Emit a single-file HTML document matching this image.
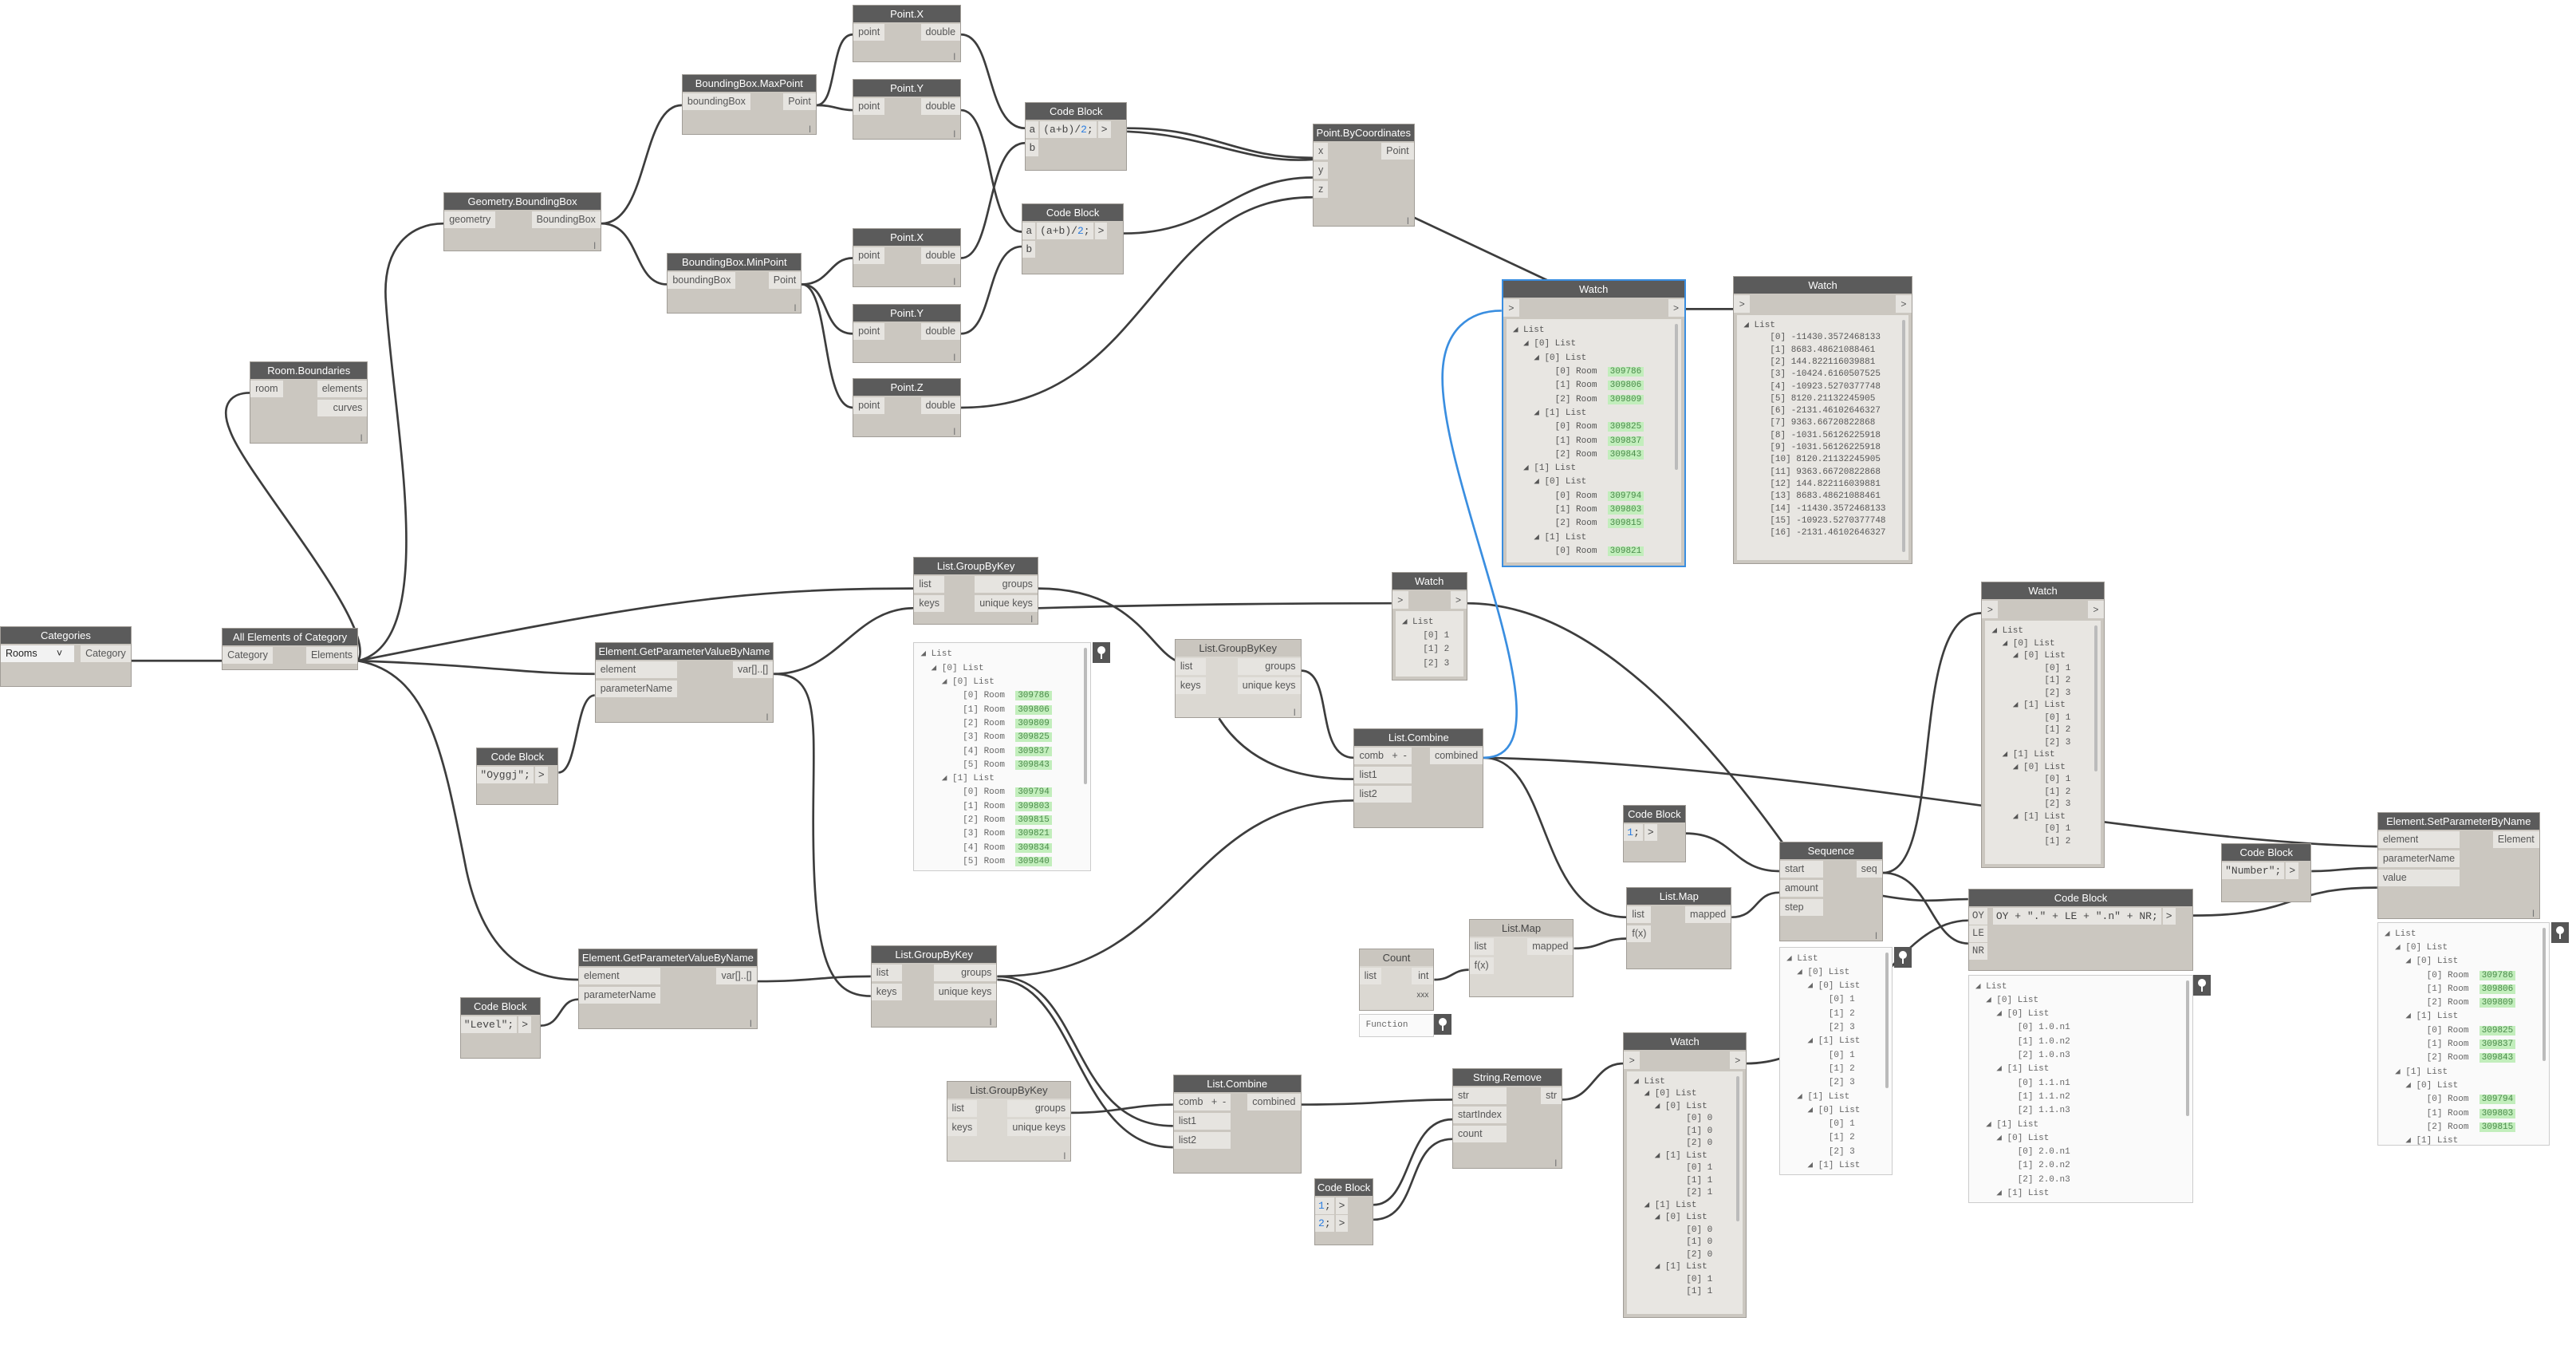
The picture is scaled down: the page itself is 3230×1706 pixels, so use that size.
<!DOCTYPE html>
<html><head><meta charset="utf-8">
<style>
html,body{margin:0;padding:0;background:#fff;width:3230px;height:1706px;overflow:hidden;font-family:"Liberation Sans",sans-serif}
.n,.pv{position:absolute;left:calc(var(--x)*2.06px);top:calc(var(--y)*2.06px);width:calc(var(--w)*2.06px);height:calc(var(--h)*2.06px);box-sizing:border-box}
.n{background:#cbc7c0;border:1px solid #a19d97;z-index:2}
.h{height:21px;line-height:21px;background:#5b5b5b;color:#fff;text-align:center;font-size:13px;white-space:nowrap;overflow:hidden}
.g{background:#dbd8d2}.g .h{background:#cac6bf;color:#444}
.l{position:absolute;left:0;top:23px}.r{position:absolute;right:0;top:23px;text-align:right}
.l i,.r i{display:block;font-style:normal;background:#e6e4e0;color:#555;font-size:12.5px;height:21px;line-height:21px;padding:0 6px;margin-bottom:3px;white-space:nowrap}
.f{position:absolute;right:6px;bottom:2px;font-size:9px;color:#777}
.cb{position:absolute;left:0;top:23px;font-family:"Liberation Mono",monospace;font-size:13px;white-space:nowrap}
.cb span{display:inline-block;background:#e6e4e0;height:21px;line-height:21px;padding:0 4px;margin-right:2px;color:#444}
.s{color:#a0522d}.b{color:#2a7de1}
.pv{background:#fafafa;border:1px solid #ccc;font-family:"Liberation Mono",monospace;font-size:11px;color:#666;line-height:17.3px;white-space:pre;padding:6px 8px;overflow:hidden;z-index:2}
.pv u{text-decoration:none;background:#c2eebc;color:#4a8a4a;padding:0 3px}
.in{position:absolute;left:4px;right:4px;top:48px;bottom:4px;background:#e8e6e2;font-family:"Liberation Mono",monospace;font-size:11px;color:#555;line-height:17.3px;white-space:pre;padding:6px 8px;overflow:hidden}
.in u{text-decoration:none;background:#c2eebc;color:#4a8a4a;padding:0 3px}
.wr{position:absolute;top:23px;left:0;right:0;height:22px}
.wr b{position:absolute;top:0;width:20px;height:22px;background:#e6e4e0;font-weight:normal;font-size:12px;line-height:22px;text-align:center;color:#555}
.pin{position:absolute;width:22px;height:26px;background:#555;z-index:3;left:calc(var(--x)*2.06px);top:calc(var(--y)*2.06px)}
.pin:before{content:"";position:absolute;left:6px;top:5px;width:10px;height:10px;border-radius:50%;background:#fff}
.pin:after{content:"";position:absolute;left:10px;top:12px;width:2px;height:9px;background:#fff}
.sb{position:absolute;right:4px;top:6px;width:4px;height:60%;background:#bbb;border-radius:2px}
svg{position:absolute;left:0;top:0;z-index:1}
</style></head><body>
<svg width="3230" height="1706" viewBox="0 0 1568 828" preserveAspectRatio="none" fill="none" stroke="#3d3d3d" stroke-width="1.3">
<path d="M80,402 L135,402"/>
<path d="M218,402 C230,380 150,290 140,262 C133,245 142,239 152,239"/>
<path d="M218,402 C268,390 240,260 235,185 C232,150 250,136 270,136"/>
<path d="M218,402 C380,370 440,358 556,358"/>
<path d="M218,402 C300,405 320,410 362,410"/>
<path d="M218,402 C262,410 270,460 284,530 C295,580 320,596 352,596"/>
<path d="M471,410 C510,410 520,370 556,370"/>
<path d="M471,410 C500,410 495,440 495,500 C495,585 505,606 530,606"/>
<path d="M461,597 C495,597 500,594 530,594"/>
<path d="M340,470 C352,470 350,423 362,423"/>
<path d="M329,624 C342,624 340,608 352,608"/>
<path d="M366,136 C395,136 390,64 415,64"/>
<path d="M366,136 C390,136 385,173 406,173"/>
<path d="M497,64 C510,64 505,21 519,21"/>
<path d="M497,64 C508,64 510,67 519,67"/>
<path d="M488,173 C505,173 505,157 519,157"/>
<path d="M488,173 C505,173 500,203 519,203"/>
<path d="M488,173 C505,173 500,248 519,248"/>
<path d="M585,21 C605,21 600,78 624,78"/>
<path d="M585,157 C605,157 600,87 624,87"/>
<path d="M585,67 C605,67 600,141 622,141"/>
<path d="M585,203 C605,203 600,150 622,150"/>
<path d="M686,78 C740,78 750,96 799,96"/>
<path d="M686,80 C735,82 760,100 799,97"/>
<path d="M684,142 C740,142 750,108 799,108"/>
<path d="M585,248 C700,248 700,120 799,120"/>
<path d="M860,132 L945,172"/>
<path d="M1026,188 L1055,188"/>
<path d="M632,358 C690,358 700,395 716,402"/>
<path d="M632,370 C700,368 780,367 847,367"/>
<path d="M893,367 C970,367 1040,450 1086,514"/>
<path d="M792,408 C812,408 800,461 824,461"/>
<path d="M742,437 C760,465 790,474 824,474"/>
<path d="M607,594 C720,594 720,487 824,487"/>
<path d="M607,594 C660,594 650,685 714,685"/>
<path d="M607,596 C655,596 655,698 714,698"/>
<path d="M652,677 C680,677 690,672 714,672"/>
<path d="M792,672 C840,672 850,669 884,669"/>
<path d="M836,733 C860,733 855,681 884,681"/>
<path d="M836,742 C865,742 855,693 884,693"/>
<path d="M951,669 C970,669 970,647 988,647"/>
<path d="M1063,647 C1130,647 1150,560 1198,560"/>
<path d="M1026,507 C1055,507 1055,530 1083,530"/>
<path d="M903,461 C945,461 935,558 990,558"/>
<path d="M903,461 C1100,465 1300,512 1447,515"/>
<path d="M873,596 C884,596 884,590 894,590"/>
<path d="M958,577 C975,577 975,571 990,571"/>
<path d="M1054,558 C1070,558 1068,543 1083,543"/>
<path d="M1146,531 C1185,531 1160,373 1206,373"/>
<path d="M1146,531 C1175,531 1175,574 1198,574"/>
<path d="M1146,545 C1175,550 1180,547 1198,547"/>
<path d="M1335,557 C1400,557 1390,540 1447,540"/>
<path d="M1407,530 C1425,530 1425,528 1447,528"/>
<path d="M903,461 C960,461 878,300 878,230 C878,200 895,189 914,189" stroke="#3a8ee0"/>
</svg>

<div class="n" style="--x:0;--y:381;--w:80;--h:37"><div class="h">Categories</div><div class="l"><i style="background:#f2f2f2;color:#222;width:80px">Rooms &nbsp; &nbsp; &nbsp; ˅</i></div><div class="r"><i>Category</i></div></div>
<div class="n" style="--x:135;--y:382;--w:83;--h:26"><div class="h">All Elements of Category</div><div class="l"><i>Category</i></div><div class="r"><i>Elements</i></div></div>
<div class="n" style="--x:152;--y:220;--w:72;--h:50"><div class="h">Room.Boundaries</div><div class="l"><i>room</i></div><div class="r"><i>elements</i><i>curves</i></div><b class="f">|</b></div>
<div class="n" style="--x:270;--y:117;--w:96;--h:36"><div class="h">Geometry.BoundingBox</div><div class="l"><i>geometry</i></div><div class="r"><i>BoundingBox</i></div><b class="f">|</b></div>
<div class="n" style="--x:415;--y:45;--w:82;--h:37"><div class="h">BoundingBox.MaxPoint</div><div class="l"><i>boundingBox</i></div><div class="r"><i>Point</i></div><b class="f">|</b></div>
<div class="n" style="--x:406;--y:154;--w:82;--h:37"><div class="h">BoundingBox.MinPoint</div><div class="l"><i>boundingBox</i></div><div class="r"><i>Point</i></div><b class="f">|</b></div>
<div class="n" style="--x:519;--y:3;--w:66;--h:35"><div class="h">Point.X</div><div class="l"><i>point</i></div><div class="r"><i>double</i></div><b class="f">|</b></div>
<div class="n" style="--x:519;--y:48;--w:66;--h:37"><div class="h">Point.Y</div><div class="l"><i>point</i></div><div class="r"><i>double</i></div><b class="f">|</b></div>
<div class="n" style="--x:519;--y:139;--w:66;--h:36"><div class="h">Point.X</div><div class="l"><i>point</i></div><div class="r"><i>double</i></div><b class="f">|</b></div>
<div class="n" style="--x:519;--y:185;--w:66;--h:36"><div class="h">Point.Y</div><div class="l"><i>point</i></div><div class="r"><i>double</i></div><b class="f">|</b></div>
<div class="n" style="--x:519;--y:230;--w:66;--h:36"><div class="h">Point.Z</div><div class="l"><i>point</i></div><div class="r"><i>double</i></div><b class="f">|</b></div>
<div class="n" style="--x:624;--y:62;--w:62;--h:42"><div class="h">Code Block</div><div class="cb"><span>a</span><span>(a+b)/<b class="b" style="font-weight:normal">2</b>;</span><span>&gt;</span><br><span style="margin-top:2px">b</span></div></div>
<div class="n" style="--x:622;--y:124;--w:62;--h:43"><div class="h">Code Block</div><div class="cb"><span>a</span><span>(a+b)/<b class="b" style="font-weight:normal">2</b>;</span><span>&gt;</span><br><span style="margin-top:2px">b</span></div></div>
<div class="n" style="--x:799;--y:75;--w:62;--h:63"><div class="h">Point.ByCoordinates</div><div class="l"><i>x</i><i>y</i><i>z</i></div><div class="r"><i>Point</i></div><b class="f">|</b></div>

<div class="n" style="--x:914;--y:170;--w:112;--h:175;border:2px solid #3a8ee0"><div class="h">Watch</div><div class="wr"><b style="left:0">&gt;</b><b style="right:0">&gt;</b></div><div class="in">◢ List
  ◢ [0] List
    ◢ [0] List
        [0] Room  <u>309786</u>
        [1] Room  <u>309806</u>
        [2] Room  <u>309809</u>
    ◢ [1] List
        [0] Room  <u>309825</u>
        [1] Room  <u>309837</u>
        [2] Room  <u>309843</u>
  ◢ [1] List
    ◢ [0] List
        [0] Room  <u>309794</u>
        [1] Room  <u>309803</u>
        [2] Room  <u>309815</u>
    ◢ [1] List
        [0] Room  <u>309821</u><div class="sb"></div></div></div>
<div class="n" style="--x:1055;--y:168;--w:109;--h:175"><div class="h">Watch</div><div class="wr"><b style="left:0">&gt;</b><b style="right:0">&gt;</b></div><div class="in" style="line-height:15.3px">◢ List
     [0] -11430.3572468133
     [1] 8683.48621088461
     [2] 144.822116039881
     [3] -10424.6160507525
     [4] -10923.5270377748
     [5] 8120.21132245905
     [6] -2131.46102646327
     [7] 9363.66720822868
     [8] -1031.56126225918
     [9] -1031.56126225918
     [10] 8120.21132245905
     [11] 9363.66720822868
     [12] 144.822116039881
     [13] 8683.48621088461
     [14] -11430.3572468133
     [15] -10923.5270377748
     [16] -2131.46102646327<div class="sb" style="height:95%"></div></div></div>

<div class="n" style="--x:556;--y:339;--w:76;--h:41"><div class="h">List.GroupByKey</div><div class="l"><i>list</i><i>keys</i></div><div class="r"><i>groups</i><i>unique keys</i></div><b class="f">|</b></div>
<div class="pv" style="--x:556;--y:391;--w:108;--h:139">◢ List
  ◢ [0] List
    ◢ [0] List
        [0] Room  <u>309786</u>
        [1] Room  <u>309806</u>
        [2] Room  <u>309809</u>
        [3] Room  <u>309825</u>
        [4] Room  <u>309837</u>
        [5] Room  <u>309843</u>
    ◢ [1] List
        [0] Room  <u>309794</u>
        [1] Room  <u>309803</u>
        [2] Room  <u>309815</u>
        [3] Room  <u>309821</u>
        [4] Room  <u>309834</u>
        [5] Room  <u>309840</u><div class="sb"></div></div>
<div class="pin" style="--x:665;--y:391"></div>
<div class="n" style="--x:847;--y:348;--w:46;--h:66"><div class="h">Watch</div><div class="wr"><b style="left:0">&gt;</b><b style="right:0">&gt;</b></div><div class="in">◢ List
    [0] 1
    [1] 2
    [2] 3</div></div>
<div class="n" style="--x:362;--y:391;--w:109;--h:49"><div class="h">Element.GetParameterValueByName</div><div class="l"><i>element</i><i>parameterName</i></div><div class="r"><i>var[]..[]</i></div><b class="f">|</b></div>
<div class="n" style="--x:290;--y:455;--w:50;--h:35"><div class="h">Code Block</div><div class="cb"><span class="s">"Oyggj";</span><span>&gt;</span></div></div>
<div class="n g" style="--x:715;--y:389;--w:77;--h:48"><div class="h">List.GroupByKey</div><div class="l"><i>list</i><i>keys</i></div><div class="r"><i>groups</i><i>unique keys</i></div><b class="f">|</b></div>
<div class="n" style="--x:824;--y:443;--w:79;--h:61"><div class="h">List.Combine</div><div class="l"><i>comb &nbsp;&nbsp;+ &nbsp;-</i><i>list1</i><i>list2</i></div><div class="r"><i>combined</i></div></div>
<div class="n" style="--x:352;--y:577;--w:109;--h:49"><div class="h">Element.GetParameterValueByName</div><div class="l"><i>element</i><i>parameterName</i></div><div class="r"><i>var[]..[]</i></div><b class="f">|</b></div>
<div class="n" style="--x:280;--y:607;--w:49;--h:37"><div class="h">Code Block</div><div class="cb"><span class="s">"Level";</span><span>&gt;</span></div></div>
<div class="n" style="--x:530;--y:575;--w:77;--h:50"><div class="h">List.GroupByKey</div><div class="l"><i>list</i><i>keys</i></div><div class="r"><i>groups</i><i>unique keys</i></div><b class="f">|</b></div>
<div class="n g" style="--x:576;--y:658;--w:76;--h:49"><div class="h">List.GroupByKey</div><div class="l"><i>list</i><i>keys</i></div><div class="r"><i>groups</i><i>unique keys</i></div><b class="f">|</b></div>
<div class="n" style="--x:714;--y:654;--w:78;--h:60"><div class="h">List.Combine</div><div class="l"><i>comb &nbsp;&nbsp;+ &nbsp;-</i><i>list1</i><i>list2</i></div><div class="r"><i>combined</i></div></div>
<div class="n" style="--x:884;--y:650;--w:67;--h:61"><div class="h">String.Remove</div><div class="l"><i>str</i><i>startIndex</i><i>count</i></div><div class="r"><i>str</i></div><b class="f">|</b></div>
<div class="n" style="--x:800;--y:717;--w:36;--h:41"><div class="h">Code Block</div><div class="cb"><span><b class="b" style="font-weight:normal">1</b>;</span><span>&gt;</span><br><span style="margin-top:1px"><b class="b" style="font-weight:normal">2</b>;</span><span>&gt;</span></div></div>
<div class="n" style="--x:988;--y:628;--w:75;--h:174"><div class="h">Watch</div><div class="wr"><b style="left:0">&gt;</b><b style="right:0">&gt;</b></div><div class="in" style="line-height:15.5px">◢ List
  ◢ [0] List
    ◢ [0] List
          [0] 0
          [1] 0
          [2] 0
    ◢ [1] List
          [0] 1
          [1] 1
          [2] 1
  ◢ [1] List
    ◢ [0] List
          [0] 0
          [1] 0
          [2] 0
    ◢ [1] List
          [0] 1
          [1] 1<div class="sb"></div></div></div>
<div class="n g" style="--x:827;--y:577;--w:46;--h:38"><div class="h">Count</div><div class="l"><i>list</i></div><div class="r"><i>int</i><i style="background:none;font-size:10px">xxx</i></div></div>
<div class="pv" style="--x:827;--y:617;--w:46;--h:14;padding:4px 8px;line-height:18px">Function</div>
<div class="pin" style="--x:873;--y:617"></div>
<div class="n g" style="--x:894;--y:559;--w:64;--h:48"><div class="h">List.Map</div><div class="l"><i>list</i><i>f(x)</i></div><div class="r"><i>mapped</i></div></div>
<div class="n" style="--x:988;--y:490;--w:38;--h:35"><div class="h">Code Block</div><div class="cb"><span><b class="b" style="font-weight:normal">1</b>;</span><span>&gt;</span></div></div>
<div class="n" style="--x:990;--y:540;--w:64;--h:50"><div class="h">List.Map</div><div class="l"><i>list</i><i>f(x)</i></div><div class="r"><i>mapped</i></div></div>
<div class="n" style="--x:1083;--y:512;--w:63;--h:61"><div class="h">Sequence</div><div class="l"><i>start</i><i>amount</i><i>step</i></div><div class="r"><i>seq</i></div><b class="f">|</b></div>
<div class="pv" style="--x:1083;--y:576;--w:69;--h:139">◢ List
  ◢ [0] List
    ◢ [0] List
        [0] 1
        [1] 2
        [2] 3
    ◢ [1] List
        [0] 1
        [1] 2
        [2] 3
  ◢ [1] List
    ◢ [0] List
        [0] 1
        [1] 2
        [2] 3
    ◢ [1] List
        [0] 1<div class="sb"></div></div>
<div class="pin" style="--x:1153;--y:576"></div>
<div class="n" style="--x:1206;--y:354;--w:75;--h:174"><div class="h">Watch</div><div class="wr"><b style="left:0">&gt;</b><b style="right:0">&gt;</b></div><div class="in" style="line-height:15.5px">◢ List
  ◢ [0] List
    ◢ [0] List
          [0] 1
          [1] 2
          [2] 3
    ◢ [1] List
          [0] 1
          [1] 2
          [2] 3
  ◢ [1] List
    ◢ [0] List
          [0] 1
          [1] 2
          [2] 3
    ◢ [1] List
          [0] 1
          [1] 2<div class="sb"></div></div></div>
<div class="n" style="--x:1198;--y:541;--w:137;--h:50"><div class="h">Code Block</div><div class="l" style="font-family:'Liberation Mono',monospace"><i style="padding:0 4px;margin-bottom:1px">OY</i><i style="padding:0 4px;margin-bottom:1px">LE</i><i style="padding:0 4px">NR</i></div><div class="cb" style="left:30px"><span>OY + <span class="s" style="padding:0;margin:0">"."</span> + LE + <span class="s" style="padding:0;margin:0">".n"</span> + NR;</span><span>&gt;</span></div></div>
<div class="pv" style="--x:1198;--y:593;--w:137;--h:139">◢ List
  ◢ [0] List
    ◢ [0] List
        [0] 1.0.n1
        [1] 1.0.n2
        [2] 1.0.n3
    ◢ [1] List
        [0] 1.1.n1
        [1] 1.1.n2
        [2] 1.1.n3
  ◢ [1] List
    ◢ [0] List
        [0] 2.0.n1
        [1] 2.0.n2
        [2] 2.0.n3
    ◢ [1] List
        [0] 2.1.n1<div class="sb"></div></div>
<div class="pin" style="--x:1335;--y:593"></div>
<div class="n" style="--x:1352;--y:513;--w:55;--h:36"><div class="h">Code Block</div><div class="cb"><span class="s">"Number";</span><span>&gt;</span></div></div>
<div class="n" style="--x:1447;--y:494;--w:99;--h:65"><div class="h">Element.SetParameterByName</div><div class="l"><i>element</i><i>parameterName</i><i>value</i></div><div class="r"><i>Element</i></div><b class="f">|</b></div>
<div class="pv" style="--x:1447;--y:561;--w:105;--h:136">◢ List
  ◢ [0] List
    ◢ [0] List
        [0] Room  <u>309786</u>
        [1] Room  <u>309806</u>
        [2] Room  <u>309809</u>
    ◢ [1] List
        [0] Room  <u>309825</u>
        [1] Room  <u>309837</u>
        [2] Room  <u>309843</u>
  ◢ [1] List
    ◢ [0] List
        [0] Room  <u>309794</u>
        [1] Room  <u>309803</u>
        [2] Room  <u>309815</u>
    ◢ [1] List<div class="sb"></div></div>
<div class="pin" style="--x:1553;--y:561"></div>
</body></html>
